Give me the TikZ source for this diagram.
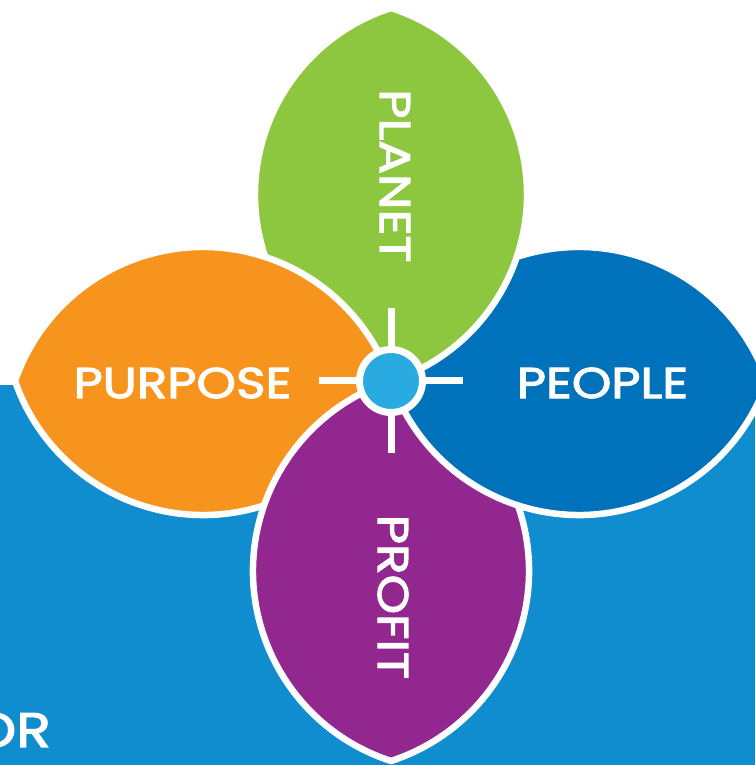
\documentclass[tikz,border=0pt]{standalone}
\usepackage{fontspec}
\setmainfont{Poppins}
\newfontfamily\labfont{Poppins}[FakeBold=2.6, FakeStretch=1.17]
\definecolor{bgblue}{HTML}{108DCF}
\definecolor{cgreen}{HTML}{8DC63F}
\definecolor{corange}{HTML}{F7941E}
\definecolor{cdblue}{HTML}{0071BB}
\definecolor{cpurple}{HTML}{92278F}
\definecolor{chub}{HTML}{29AAE1}
\tikzset{
  lab/.style={text=white, font=\labfont\fontsize{43}{43}\selectfont, inner sep=0pt},
  petalline/.style={draw=white, line width=6.5pt, line join=round},
  spoke/.style={draw=white, line width=7pt},
}
% #1 angle, #2 length, #3 half width, #4 colour
\newcommand\mylens[4]{%
  \begin{scope}[shift={(C)}, rotate=#1]
    \pgfmathsetmacro\hh{#2/2}%
    \pgfmathsetmacro\RR{0.5*\hh*(\hh/#3)+0.5*#3}%
    \pgfmathsetmacro\aa{asin(\hh/\RR)}%
    \path[petalline, fill=#4] (0,0)
      arc[start angle={90+\aa}, end angle={90-\aa}, radius=\RR pt]
      arc[start angle={\aa-90}, end angle={-90-\aa}, radius=\RR pt] -- cycle;
  \end{scope}}
\begin{document}
\begin{tikzpicture}[x=1pt,y=1pt]
\useasboundingbox (0,0) rectangle (755,765);
\fill[bgblue] (0,0) rectangle (755,380);
\coordinate (C) at (391,384);
% petals (cyclic overlap: green under orange, orange under purple,
% purple under blue, blue under green)
\mylens{90}{373}{136}{cgreen}
\mylens{180}{376}{134}{corange}
\mylens{270}{380}{138}{cpurple}
\mylens{0}{376}{134}{cdblue}
\begin{scope}
  \clip (391,0) rectangle (755,765);
  \mylens{90}{373}{136}{cgreen}
\end{scope}
% spokes and hub
\coordinate (sl) at (319,384);
\coordinate (sr) at (463,384);
\coordinate (st) at (391,457);
\coordinate (sb) at (391,312);
\draw[spoke] (sl) -- (sr);
\draw[spoke] (st) -- (sb);
\node[circle, fill=chub, draw=white, line width=7pt, minimum size=63pt, inner sep=0pt] (hub) at (C) {};
% labels
\node[lab] (purpose) at (182.5,382) {PURPOSE};
\node[lab] (people) at (602.5,382) {PEOPLE};
\node[lab, rotate=-90] (planet) at (395,589) {PLANET};
\node[lab, rotate=-90] (profit) at (393,168) {PROFIT};
\node[text=white, font=\labfont\fontsize{48.5}{48.5}\selectfont, inner sep=0pt, anchor=base east] (or) at (51,18) {OR};
\end{tikzpicture}
\end{document}
